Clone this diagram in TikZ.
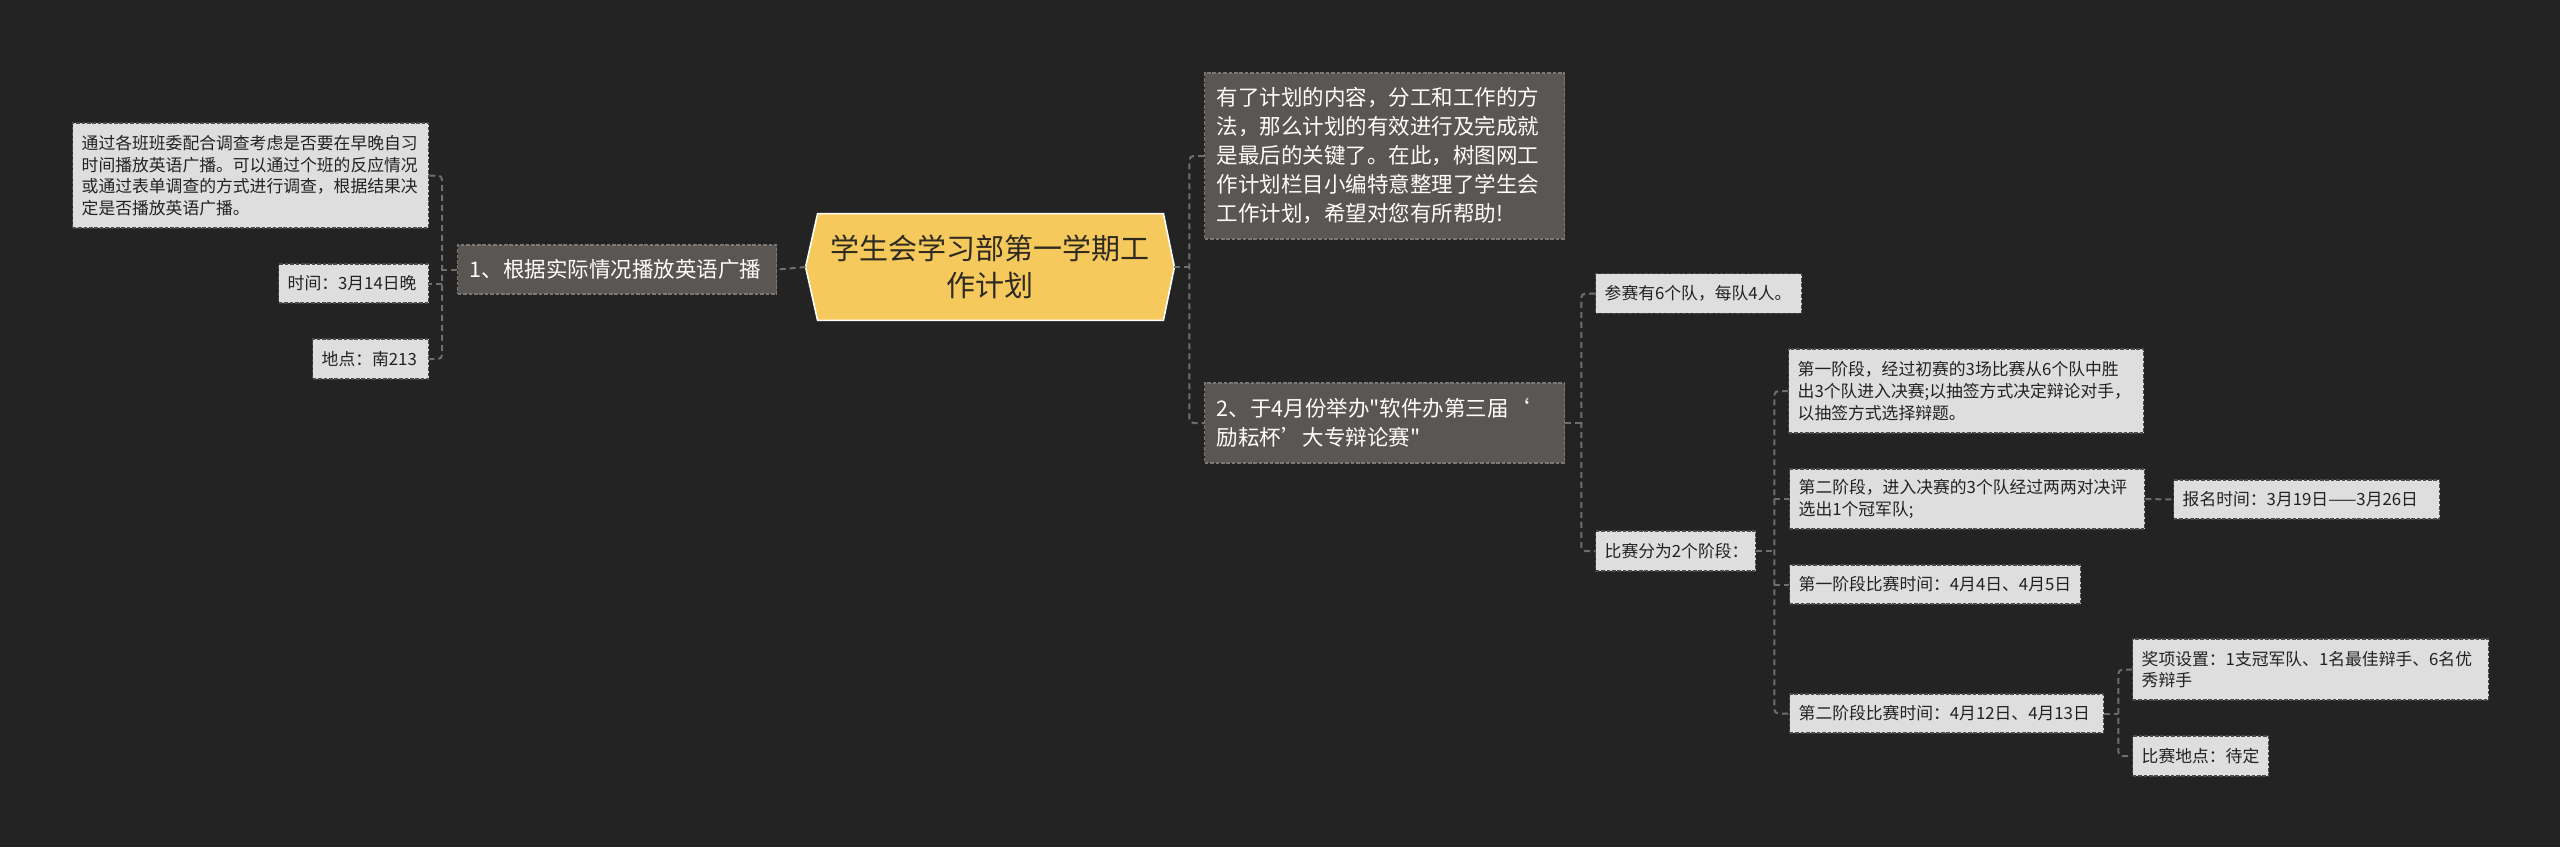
\documentclass[tikz,border=0pt]{standalone}
\usepackage{fontspec}
\setmainfont{Noto Sans CJK SC}[Ligatures=TeXOff]
\usetikzlibrary{calc}
\definecolor{bgc}{HTML}{232323}
\definecolor{conncol}{HTML}{6E6E6E}
\definecolor{mainfill}{HTML}{5A5654}
\definecolor{mainborder}{HTML}{7C7876}
\definecolor{leaffill}{HTML}{DEDEDE}
\definecolor{leafborder}{HTML}{4A4A4A}
\definecolor{leaftext}{HTML}{222222}
\definecolor{rootfill}{HTML}{F5C95C}
\definecolor{roottext}{HTML}{2E2A20}
\pgfdeclarelayer{back}
\pgfdeclarelayer{mid}
\pgfsetlayers{back,mid,main}
\tikzset{
  conn/.style={draw=conncol, line width=1pt, dash pattern=on 3pt off 2pt},
  leafbox/.style={fill=leaffill, draw=leafborder, line width=0.7pt, dash pattern=on 1.8pt off 0.9pt,
    text=leaftext, font=\fontsize{8.4pt}{10.85pt}\selectfont, align=left, anchor=west,
    inner xsep=4.5pt, inner ysep=0pt},
  mainbox/.style={fill=mainfill, draw=mainborder, line width=0.7pt, dash pattern=on 1.8pt off 0.9pt,
    text=white, font=\fontsize{10.75pt}{14.5pt}\selectfont, align=left, anchor=west,
    inner xsep=6pt, inner ysep=0pt},
  rootbox/.style={text=roottext, font=\fontsize{14.5pt}{18.75pt}\selectfont, align=center,
    minimum width=184pt, minimum height=53pt, inner sep=0pt},
}
\begin{document}
\begin{tikzpicture}[x=0.5pt,y=-0.5pt]
\begin{pgfonlayer}{back}
\fill[bgc] (0,0) rectangle (2560,847);
\end{pgfonlayer}
\useasboundingbox (0,0) rectangle (2560,847);

% root
\node[rootbox] (root) at (990,267) {学生会学习部第一学期工\\作计划};
\begin{pgfonlayer}{mid}
\filldraw[fill=rootfill, draw=white, line width=0.8pt]
  (root.west) -- ($(root.north west)+(12,0)$) -- ($(root.north east)+(-11,0)$) -- (root.east)
  -- ($(root.south east)+(-11,0)$) -- ($(root.south west)+(12,0)$) -- cycle;
\end{pgfonlayer}

% left branch
\node[mainbox, text width=147.5pt, minimum height=24.5pt] (b1) at (457,269.5) {1、根据实际情况播放英语广播};
\node[leafbox, text width=169pt, minimum height=52.5pt] (l1) at (72,175.5)
  {通过各班班委配合调查考虑是否要在早晚自习\\时间播放英语广播。可以通过个班的反应情况\\或通过表单调查的方式进行调查，根据结果决\\定是否播放英语广播。};
\node[leafbox, text width=66pt, minimum height=19.5pt] (l2) at (278,283.5) {时间：3月14日晚};
\node[leafbox, text width=49pt, minimum height=20pt] (l3) at (312,359) {地点：南213};

% right main branches
\node[mainbox, text width=168pt, minimum height=83pt] (top) at (1204,156)
  {有了计划的内容，分工和工作的方\\法，那么计划的有效进行及完成就\\是最后的关键了。在此，树图网工\\作计划栏目小编特意整理了学生会\\工作计划，希望对您有所帮助!};
\node[mainbox, text width=168pt, minimum height=40pt] (n2) at (1204,423)
  {2、于4月份举办"软件办第三届‘\\励耘杯’大专辩论赛"};

\node[leafbox, text width=94pt, minimum height=19.75pt] (a) at (1595,293.5) {参赛有6个队，每队4人。};
\node[leafbox, text width=71pt, minimum height=20pt] (b) at (1595,551) {比赛分为2个阶段：};

\node[leafbox, text width=168.5pt, minimum height=42pt] (c1) at (1788,391)
  {第一阶段，经过初赛的3场比赛从6个队中胜\\出3个队进入决赛;以抽签方式决定辩论对手，\\以抽签方式选择辩题。};
\node[leafbox, text width=168.5pt, minimum height=30pt] (c2) at (1789,499)
  {第二阶段，进入决赛的3个队经过两两对决评\\选出1个冠军队;};
\node[leafbox, text width=124pt, minimum height=19.5pt] (d) at (2173,499.5) {报名时间：3月19日——3月26日};
\node[leafbox, text width=136.5pt, minimum height=19.5pt] (c3) at (1789,584.5) {第一阶段比赛时间：4月4日、4月5日};
\node[leafbox, text width=148pt, minimum height=19.5pt] (c4) at (1789,713.5) {第二阶段比赛时间：4月12日、4月13日};
\node[leafbox, text width=169pt, minimum height=30.5pt] (e1) at (2132,669.5)
  {奖项设置：1支冠军队、1名最佳辩手、6名优\\秀辩手};
\node[leafbox, text width=59pt, minimum height=20pt] (e2) at (2132,756) {比赛地点：待定};

% connectors left
\draw[conn] (root.west) -- (b1.east);
\coordinate (s1) at ($(b1.west)+(-15,0)$);
\draw[conn, rounded corners=2pt] (l1.east) -| (s1) |- (l3.east);
\draw[conn] (b1.west) -- (s1);
\draw[conn] (s1 |- l2.east) -- (l2.east);

% connectors right
\coordinate (s0) at ($(root.east)+(15,0)$);
\draw[conn] (root.east) -- (s0);
\draw[conn, rounded corners=2pt] (top.west) -| (s0) |- (n2.west);

\coordinate (s2) at ($(n2.east)+(16,0)$);
\draw[conn] (n2.east) -- (s2);
\draw[conn, rounded corners=2pt] (a.west) -| (s2) |- (b.west);

\coordinate (s3) at ($(b.east)+(18,0)$);
\draw[conn] (b.east) -- (s3);
\draw[conn, rounded corners=2pt] (c1.west) -| (s3) |- (c4.west);
\draw[conn] (s3 |- c2.west) -- (c2.west);
\draw[conn] (s3 |- c3.west) -- (c3.west);

\draw[conn] (c2.east) -- (d.west);

\coordinate (s4) at ($(c4.east)+(14,0)$);
\draw[conn] (c4.east) -- (s4);
\draw[conn, rounded corners=2pt] (e1.west) -| (s4) |- (e2.west);
\end{tikzpicture}
\end{document}
